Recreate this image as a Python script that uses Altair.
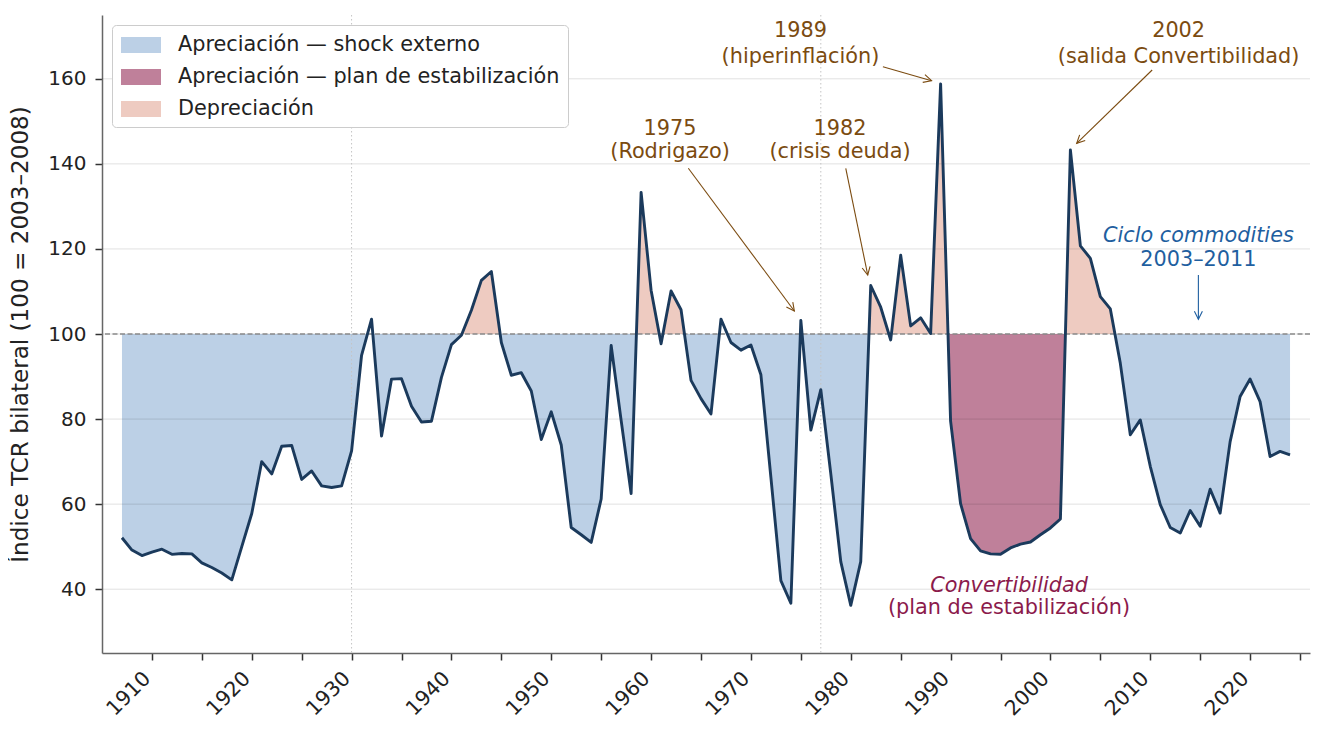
import math
import pandas as pd
import altair as alt

# ---------------- data ----------------
YEARS = list(range(1907, 2025))
TCR = [
    52.1, 49.2, 47.9, 48.7, 49.4, 48.2, 48.4, 48.3, 46.2, 45.1,   # 1907-1916
    43.8, 42.2, 50.0, 57.8, 70.0, 67.1, 73.6, 73.8, 65.8, 67.8,   # 1917-1926
    64.3, 63.9, 64.3, 72.5, 95.0, 103.5, 76.0, 89.4, 89.5, 83.0,  # 1927-1936
    79.3, 79.5, 89.8, 97.5, 99.7, 105.6, 112.6, 114.7, 98.0, 90.3,  # 1937-1946
    90.9, 86.6, 75.2, 81.7, 73.9, 54.5, 52.8, 51.0, 61.2, 97.3,   # 1947-1956
    79.7, 62.5, 133.3, 110.3, 97.7, 110.1, 105.7, 89.1, 84.8, 81.2,  # 1957-1966
    103.5, 98.0, 96.2, 97.4, 90.4, 66.3, 42.0, 36.7, 103.2, 77.4,  # 1967-1976
    86.9, 67.1, 46.5, 36.2, 46.5, 111.4, 106.3, 98.6, 118.5, 101.9,  # 1977-1986
    103.8, 100.1, 158.8, 79.5, 60.1, 51.9, 49.0, 48.3, 48.2, 49.7,  # 1987-1996
    50.6, 51.1, 52.8, 54.4, 56.5, 143.3, 120.7, 117.8, 108.8, 105.9,  # 1997-2006
    93.1, 76.3, 79.8, 68.9, 59.9, 54.5, 53.2, 58.5, 54.8, 63.5,   # 2007-2016
    57.9, 74.7, 85.3, 89.4, 84.1, 71.2, 72.4, 71.6,               # 2017-2024
]

BASE = 100
CONV_PERIOD = (1989, 2002)
DEPREC_EPISODES = [(1941, 1946), (1958, 1964), (1981, 1990), (2001, 2007)]

CATS = ["Apreciación — shock externo",
        "Apreciación — plan de estabilización",
        "Depreciación"]
FILL_COLORS = ["#bcd0e6", "#bf809a", "#eecbc1"]

X_DOMAIN = [1905, 2026]
Y_DOMAIN = [25, 175]
X_TICKS = list(range(1910, 2026, 5))
Y_TICKS = [40, 60, 80, 100, 120, 140, 160]
VLINES = [1930, 1977]

BROWN = "#7b4b10"
BLUE = "#1f5fa0"
MAGENTA = "#8b1a4b"
LINE_COLOR = "#1b3a5c"

# annotation texts
ANN_TEXT = ["1989", "(hiperinflación)", "2002", "(salida Convertibilidad)",
            "1975", "(Rodrigazo)", "1982", "(crisis deuda)",
            "Ciclo commodities", "2003–2011",
            "Convertibilidad", "(plan de estabilización)"]
ANN_X = [1974.96, 1974.96, 2012.84, 2012.84, 1961.9, 1961.9, 1978.93, 1978.93,
         2014.82, 2014.82, 1995.85, 1995.85]
ANN_Y = [171.24, 165.2, 171.24, 165.2, 148.13, 142.86, 148.13, 142.86,
         123.04, 117.4, 40.75, 35.58]
ANN_COL = [BROWN] * 8 + [BLUE, BLUE, MAGENTA, MAGENTA]
ANN_ITALIC = [False] * 8 + [True, False, True, False]

# arrows: start (x, y) -> end (x2, y2)
ARR_X = [1983.22, 2010.19, 1963.73, 1979.50, 2014.82]
ARR_Y = [162.84, 162.07, 138.96, 138.96, 113.87]
ARR_X2 = [1988.09, 2002.63, 1974.35, 1981.70, 2014.82]
ARR_Y2 = [159.55, 144.84, 105.41, 113.87, 103.46]
ARR_COL = [BROWN, BROWN, BROWN, BROWN, BLUE]

W, H = 1208, 638
FS = 20.8

# ---------------- derived tables ----------------
line_df = pd.DataFrame({"year": YEARS, "tcr": TCR})

xs, vs = [], []
for i, (yr, v) in enumerate(zip(YEARS, TCR)):
    if i > 0:
        v0 = TCR[i - 1]
        if (v0 - BASE) * (v - BASE) < 0:
            t = (BASE - v0) / (v - v0)
            xs.append(YEARS[i - 1] + t)
            vs.append(BASE)
    xs.append(yr)
    vs.append(v)


def in_conv(x):
    return CONV_PERIOD[0] < x < CONV_PERIOD[1]


def in_deprec(x):
    return any(a <= x <= b for a, b in DEPREC_EPISODES)


rows = []
for x, v in zip(xs, vs):
    lo = min(v, BASE)
    hi = max(v, BASE)
    rows.append({"x": x, "y": BASE if in_conv(x) else lo, "base": BASE, "cat": CATS[0]})
    rows.append({"x": x, "y": lo if in_conv(x) else BASE, "base": BASE, "cat": CATS[1]})
    rows.append({"x": x, "y": hi if in_deprec(x) else BASE, "base": BASE, "cat": CATS[2]})
fill_df = pd.DataFrame(rows)

px_year = W / (X_DOMAIN[1] - X_DOMAIN[0])
px_unit = H / (Y_DOMAIN[1] - Y_DOMAIN[0])
angles = []
for x1, y1, x2, y2 in zip(ARR_X, ARR_Y, ARR_X2, ARR_Y2):
    dx = (x2 - x1) * px_year
    dy = -(y2 - y1) * px_unit
    angles.append(math.degrees(math.atan2(dy, dx)) % 360)
arr_df = pd.DataFrame({"x": ARR_X, "y": ARR_Y, "x2": ARR_X2, "y2": ARR_Y2,
                       "col": ARR_COL, "ang": angles})
ann_df = pd.DataFrame({"text": ANN_TEXT, "x": ANN_X, "y": ANN_Y,
                       "col": ANN_COL, "italic": ANN_ITALIC})

# ---------------- chart ----------------
xscale = alt.Scale(domain=X_DOMAIN, nice=False, zero=False)
yscale = alt.Scale(domain=Y_DOMAIN, nice=False, zero=False)

x_axis = alt.Axis(values=X_TICKS, format="d",
                  labelExpr="datum.value % 10 == 0 ? datum.label : ''",
                  labelAngle=315, labelAlign="right", labelBaseline="top",
                  labelPadding=8, labelOffset=-12, labelFontSize=20.5,
                  labelColor="#222222", labelOverlap=False, labelBound=False,
                  labelFlush=False, tickSize=7, tickWidth=1.5, tickColor="#333333",
                  domainColor="#666666", domainWidth=1.5, grid=False, title=None)
y_axis = alt.Axis(values=Y_TICKS, title="Índice TCR bilateral (100 = 2003–2008)",
                  titleFontSize=23.1, titleFontWeight="normal", titleColor="#222222",
                  titlePadding=15, labelFontSize=20, labelColor="#222222",
                  labelPadding=9, tickSize=7, tickWidth=1.5, tickColor="#333333",
                  domainColor="#666666", domainWidth=1.5, grid=False)

SWATCH = "M -1.667 -0.667 H 1.667 V 0.667 H -1.667 Z"

fills = alt.Chart(fill_df).mark_area(interpolate="linear", strokeWidth=0, opacity=1).encode(
    x=alt.X("x:Q", scale=xscale, axis=x_axis),
    y=alt.Y("y:Q", scale=yscale, axis=y_axis, stack=None),
    y2="base:Q",
    color=alt.Color("cat:N", sort=CATS,
                    scale=alt.Scale(domain=CATS, range=FILL_COLORS),
                    legend=alt.Legend(title=None, orient="top-left", offset=10,
                                      padding=8, fillColor="white",
                                      strokeColor="#cccccc", cornerRadius=4,
                                      labelFontSize=FS, labelColor="#222222",
                                      labelLimit=700, symbolType=SWATCH,
                                      symbolSize=576, symbolStrokeWidth=0,
                                      symbolOpacity=1, symbolOffset=9,
                                      labelOffset=25, rowPadding=10)),
)

grid = alt.Chart(pd.DataFrame({"v": Y_TICKS})).mark_rule(
    color="black", opacity=0.12, strokeWidth=1).encode(y=alt.Y("v:Q", scale=yscale))

vlines = alt.Chart(pd.DataFrame({"v": VLINES})).mark_rule(
    color="#c4c4c4", strokeDash=[1.5, 2.5], strokeWidth=1).encode(x=alt.X("v:Q", scale=xscale))

baseline = alt.Chart(pd.DataFrame({"v": [BASE]})).mark_rule(
    color="#8a8a8a", strokeDash=[5, 2.5], strokeWidth=1.3).encode(y=alt.Y("v:Q", scale=yscale))

line = alt.Chart(line_df).mark_line(color=LINE_COLOR, strokeWidth=2.9,
                                    strokeJoin="round").encode(
    x=alt.X("year:Q", scale=xscale), y=alt.Y("tcr:Q", scale=yscale))

arrows = alt.Chart(arr_df).mark_rule(strokeWidth=1.1).encode(
    x="x:Q", y="y:Q", x2="x2:Q", y2="y2:Q", color=alt.Color("col:N", scale=None))

heads = alt.Chart(arr_df).mark_point(shape="M -2 -1 L 0 0 L -2 1", filled=False,
                                     size=64, strokeWidth=1.1, opacity=1).encode(
    x="x2:Q", y="y2:Q", angle=alt.Angle("ang:Q", scale=None),
    color=alt.Color("col:N", scale=None))

txt_normal = alt.Chart(ann_df).transform_filter("!datum.italic").mark_text(
    fontSize=FS, align="center", baseline="middle").encode(
    x="x:Q", y="y:Q", text="text:N", color=alt.Color("col:N", scale=None))

txt_italic = alt.Chart(ann_df).transform_filter("datum.italic").mark_text(
    fontSize=FS, align="center", baseline="middle", fontStyle="italic").encode(
    x="x:Q", y="y:Q", text="text:N", color=alt.Color("col:N", scale=None))

chart = alt.layer(fills, grid, vlines, baseline, line, arrows, heads,
                  txt_normal, txt_italic).properties(
    width=W, height=H,
    padding={"left": 94, "top": 7, "right": 5, "bottom": 70},
    autosize=alt.AutoSizeParams(type="none"),
    background="white",
).configure(font="DejaVu Sans").configure_view(stroke=None)

chart.save("out.html", embed_options={"renderer": "svg", "actions": False})
